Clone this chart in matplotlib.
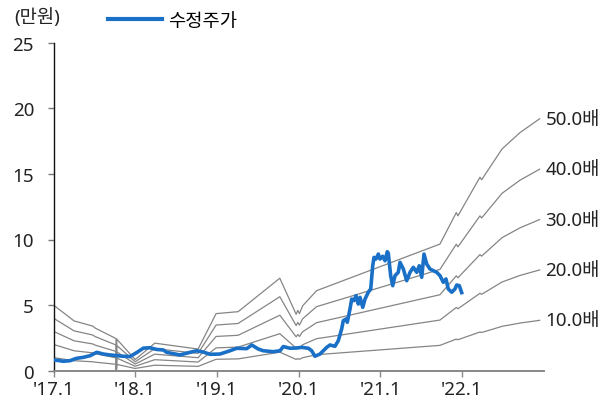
import matplotlib
matplotlib.use("Agg")
import matplotlib.pyplot as plt
from matplotlib.lines import Line2D

plt.rcParams['font.family'] = ['Noto Sans', 'Noto Sans CJK KR', 'DejaVu Sans']

# ---- data ----
eps_dates = [2017.00, 2017.22, 2017.25, 2017.48, 2017.51, 2017.765, 2017.77, 2017.775,
             2018.00, 2018.24, 2018.77, 2018.99, 2019.26, 2019.77, 2019.97, 2019.99,
             2020.01, 2020.05, 2020.22, 2021.73, 2021.93, 2021.95, 2022.22, 2022.24,
             2022.49, 2022.71, 2022.95]
eps = [0.100, 0.079, 0.076, 0.068, 0.065, 0.049, 0.002, 0.048,
       0.017, 0.042, 0.033, 0.087, 0.090, 0.141, 0.086, 0.092,
       0.087, 0.099, 0.122, 0.193, 0.241, 0.236, 0.295, 0.291,
       0.338, 0.363, 0.384]
multiples = [10, 20, 30, 40, 50]

price_dates = [2017.00, 2017.055, 2017.12, 2017.20, 2017.28, 2017.365, 2017.447, 2017.529,
               2017.61, 2017.69, 2017.774, 2017.854, 2017.936, 2018.018, 2018.10, 2018.18,
               2018.263, 2018.344, 2018.386, 2018.466, 2018.548, 2018.589, 2018.671, 2018.753,
               2018.834, 2018.916, 2019.038, 2019.16, 2019.242, 2019.365, 2019.426, 2019.507,
               2019.568, 2019.69, 2019.772, 2019.813, 2019.895, 2019.977, 2020.038, 2020.119,
               2020.16, 2020.20, 2020.262, 2020.344, 2020.384, 2020.445, 2020.486, 2020.527,
               2020.547, 2020.58, 2020.596, 2020.629, 2020.65, 2020.678, 2020.703, 2020.731,
               2020.752, 2020.785, 2020.813, 2020.853, 2020.883, 2020.907, 2020.923, 2020.947,
               2020.976, 2020.996, 2021.029, 2021.058, 2021.086, 2021.098, 2021.127, 2021.152,
               2021.18, 2021.22, 2021.241, 2021.282, 2021.323, 2021.364, 2021.404, 2021.446,
               2021.477, 2021.507, 2021.535, 2021.568, 2021.608, 2021.649, 2021.69, 2021.731,
               2021.771, 2021.804, 2021.832, 2021.874, 2021.914, 2021.935, 2021.967, 2021.996]
price = [0.82, 0.78, 0.72, 0.76, 0.94, 1.02, 1.14, 1.40,
         1.27, 1.20, 1.15, 1.10, 1.08, 1.38, 1.72, 1.75,
         1.62, 1.58, 1.40, 1.30, 1.20, 1.27, 1.40, 1.52,
         1.42, 1.25, 1.27, 1.52, 1.71, 1.68, 1.96, 1.65,
         1.52, 1.45, 1.52, 1.84, 1.71, 1.73, 1.78, 1.71,
         1.52, 1.10, 1.27, 1.78, 1.96, 1.86, 2.29, 3.18,
         3.81, 3.94, 3.69, 4.70, 5.46, 5.34, 5.72, 5.08,
         5.59, 4.83, 5.46, 5.98, 6.23, 8.00, 8.64, 8.51,
         8.89, 8.51, 8.72, 8.38, 9.07, 8.95, 7.24, 6.48,
         7.24, 7.50, 8.26, 7.75, 6.86, 7.50, 7.88, 7.50,
         8.00, 7.12, 8.89, 8.13, 7.75, 7.62, 7.50, 7.24,
         6.74, 6.99, 6.23, 5.98, 6.23, 6.53, 6.48, 5.95]

xtick_pos = [2017, 2018, 2019, 2020, 2021, 2022]
xtick_labels = ["'17.1", "'18.1", "'19.1", "'20.1", "'21.1", "'22.1"]
yticks = [0, 5, 10, 15, 20, 25]

# ---- figure ----
FS = 13.5
fig = plt.figure(figsize=(6.11, 4.06), dpi=100)
ax = fig.add_axes([53.5/611, 1-371.7/406, (543.7-53.5)/611, (371.7-43.7)/406])

for m in multiples:
    vals = [e*m for e in eps]
    ax.plot(eps_dates, vals, color='#858585', lw=0.9, zorder=2)
    ax.text(eps_dates[-1] + 0.07, vals[-1], f"{m:.1f}배", fontsize=FS,
            va='center', ha='left', color='#222222', clip_on=False)

ax.plot(price_dates, price, color='#1A6FC6', lw=2.6, zorder=3, solid_joinstyle='round')

ax.set_xlim(2017.0, 2023.0)
ax.set_ylim(0, 25)
ax.set_xticks(xtick_pos)
ax.set_xticklabels(xtick_labels)
ax.set_yticks(yticks)
ax.tick_params(axis='both', direction='out', labelsize=FS, labelcolor='#222222', length=4, width=1)
ax.tick_params(axis='x', color='#888888', pad=3)
ax.tick_params(axis='y', color='#777777', pad=10)
for s in ['top', 'right']:
    ax.spines[s].set_visible(False)
ax.spines['bottom'].set_color('#888888')
ax.spines['bottom'].set_linewidth(1.4)
ax.spines['left'].set_color('#111111')
ax.spines['left'].set_linewidth(1.0)

fig.text(14/611, 1-18/406, "(만원)", fontsize=FS, va='center', ha='left', color='#222222')
handle = Line2D([], [], color='#1A6FC6', lw=3)
ax.legend([handle], ["수정주가"], loc='center left', bbox_to_anchor=(108/611, 1-22/406),
          bbox_transform=fig.transFigure, frameon=False, fontsize=FS,
          handlelength=2.9, handletextpad=0.3, borderpad=0, borderaxespad=0)

fig.savefig("out.png", dpi=100)
